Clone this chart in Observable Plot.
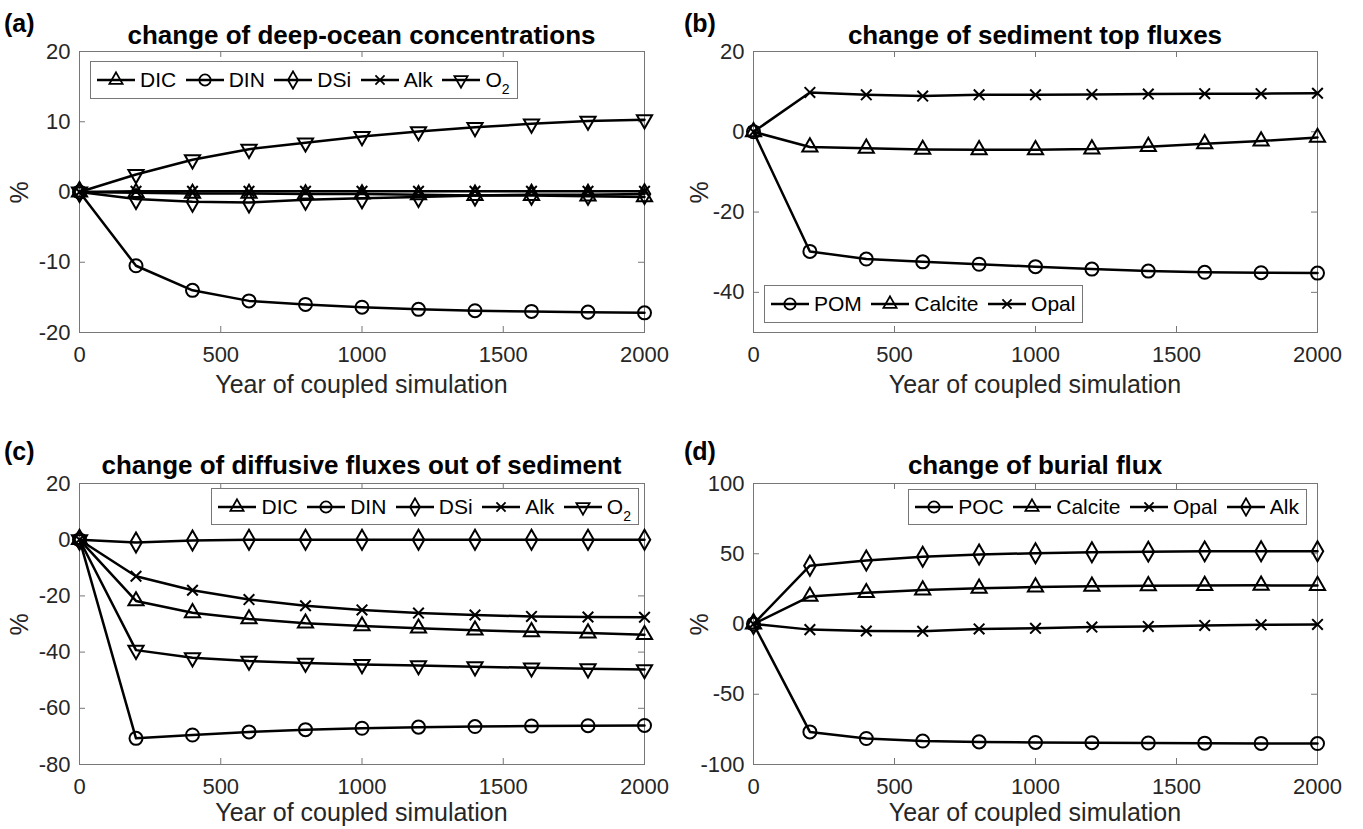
<!DOCTYPE html>
<html><head><meta charset="utf-8">
<script src="https://cdn.jsdelivr.net/npm/d3@7"></script>
<script src="https://cdn.jsdelivr.net/npm/@observablehq/plot@0.6"></script>
<style>
body{margin:0;background:#fff;font-family:"Liberation Sans",Arial,Helvetica,sans-serif;}
#fig{position:relative;width:1363px;height:829px;overflow:hidden;background:#fff}
.svgwrap{position:absolute}
.tag{position:absolute;font-weight:bold;font-size:25px;color:#000;line-height:1}
.title{position:absolute;font-weight:bold;font-size:26px;color:#000;text-align:center;line-height:1;white-space:nowrap}
.xlab{position:absolute;font-size:25px;color:#262626;text-align:center;line-height:1;white-space:nowrap}
.ylab{position:absolute;font-size:25px;color:#262626;line-height:1;transform:rotate(-90deg);transform-origin:center}
.legend{position:absolute;background:#fff;border:1px solid #777;display:flex;align-items:center;gap:8.5px;padding:0 7px 0 5px;box-sizing:border-box;font-size:21px;color:#000;white-space:nowrap}
.item{display:flex;align-items:center}
.item svg{display:block;margin-right:4px}
sub{font-size:14px;vertical-align:-7px;line-height:0}
</style></head>
<body><div id="fig"></div>
<script>
// ---------- data ----------
const years = [0, 200, 400, 600, 800, 1000, 1200, 1400, 1600, 1800, 2000];
const xTicks = [0, 500, 1000, 1500, 2000];

// (a) change of deep-ocean concentrations
const aDIC = [0, -0.1, -0.2, -0.2, -0.3, -0.3, -0.4, -0.5, -0.5, -0.6, -0.7];
const aDIN = [0, -10.5, -14.0, -15.5, -16.0, -16.4, -16.7, -16.9, -17.0, -17.1, -17.2];
const aDSi = [0, -1.0, -1.4, -1.5, -1.1, -0.9, -0.7, -0.5, -0.4, -0.4, -0.3];
const aAlk = [0, 0.1, 0.1, 0.1, 0.1, 0.1, 0.1, 0.1, 0.1, 0.1, 0.1];
const aO2  = [0, 2.5, 4.6, 6.1, 7.0, 7.9, 8.6, 9.2, 9.7, 10.1, 10.3];
const aYTicks = [-20, -10, 0, 10, 20];

// (b) change of sediment top fluxes
const bPOM     = [0, -29.8, -31.7, -32.4, -33.0, -33.6, -34.2, -34.7, -35.0, -35.1, -35.2];
const bCalcite = [0, -3.8, -4.1, -4.4, -4.5, -4.5, -4.3, -3.7, -3.0, -2.3, -1.4];
const bOpal    = [0, 9.8, 9.2, 8.9, 9.2, 9.2, 9.3, 9.4, 9.5, 9.5, 9.6];
const bYTicks = [-40, -20, 0, 20];

// (c) change of diffusive fluxes out of sediment
const cDIC = [0, -21.8, -26.0, -28.2, -29.7, -30.7, -31.5, -32.2, -32.8, -33.2, -33.8];
const cDIN = [0, -70.7, -69.5, -68.4, -67.6, -67.1, -66.7, -66.5, -66.3, -66.2, -66.1];
const cDSi = [0, -1.0, -0.3, 0, 0, 0, 0, 0, 0, 0, 0];
const cAlk = [0, -13.0, -18.0, -21.3, -23.5, -25.0, -26.1, -26.8, -27.3, -27.5, -27.6];
const cO2  = [0, -39.3, -42.0, -43.2, -43.9, -44.4, -44.8, -45.2, -45.6, -45.9, -46.2];
const cYTicks = [-80, -60, -40, -20, 0, 20];

// (d) change of burial flux
const dPOC     = [0, -76.8, -81.5, -83.3, -83.9, -84.3, -84.5, -84.7, -84.8, -85.0, -85.1];
const dCalcite = [0, 19.6, 22.3, 24.2, 25.4, 26.3, 26.8, 27.2, 27.4, 27.5, 27.4];
const dOpal    = [0, -4.0, -5.0, -5.2, -3.5, -3.1, -2.2, -1.7, -1.0, -0.6, -0.3];
const dAlk     = [0, 41.5, 45.2, 47.8, 49.4, 50.4, 51.0, 51.5, 51.7, 51.8, 51.8];
const dYTicks = [-100, -50, 0, 50, 100];

// ---------- symbols ----------
const sqrt3 = Math.sqrt(3);
const triangleDown = {draw(ctx, size){ const y = -Math.sqrt(size/(sqrt3*3)); ctx.moveTo(0,-y*2); ctx.lineTo(-sqrt3*y, y); ctx.lineTo(sqrt3*y, y); ctx.closePath(); }};
const SYM = {tri: d3.symbolTriangle, circ: d3.symbolCircle, diam: d3.symbolDiamond, x: d3.symbolTimes, tdown: triangleDown};
const SIZE = {tri: 100, circ: 133, diam: 115, x: 75, tdown: 100};

const fig = document.getElementById('fig');
const FONT = '"Liberation Sans",Arial,Helvetica,sans-serif';

function panel(p){
  const svgLeft = p.col === 0 ? 0 : 680, svgTop = p.top - 12;
  const W = 683, H = (p.bottom + 36) - svgTop;
  const plotW = p.right - p.left, plotH = p.bottom - p.top;
  const marks = [
    Plot.frame({stroke: '#777', strokeWidth: 1}),
    Plot.tickX(xTicks, {x: d => d, insetTop: plotH - 6, stroke: '#777'}),
    Plot.tickX(xTicks, {x: d => d, insetBottom: plotH - 6, stroke: '#777'}),
    Plot.tickY(p.yTicks, {y: d => d, insetRight: plotW - 6, stroke: '#777'}),
    Plot.tickY(p.yTicks, {y: d => d, insetLeft: plotW - 6, stroke: '#777'}),
    Plot.axisX(xTicks, {tickSize: 0, tickPadding: 14, fontSize: 22, fill: '#262626', label: null, tickFormat: d => String(d)}),
    Plot.axisY(p.yTicks, {tickSize: 0, tickPadding: 9, fontSize: 22, fill: '#262626', label: null, tickFormat: d => String(d)})
  ];
  for (const s of p.series) {
    marks.push(Plot.line(years, {x: d => d, y: (d, i) => s.v[i], stroke: '#000', strokeWidth: 2.5}));
  }
  for (const s of p.series) {
    marks.push(Plot.dot(years, {x: d => d, y: (d, i) => s.v[i], symbol: SYM[s.sym], r: Math.sqrt(SIZE[s.sym]/Math.PI), stroke: '#000', strokeWidth: 2, fill: 'none'}));
  }
  const chart = Plot.plot({
    width: W, height: H,
    marginLeft: p.left - svgLeft, marginRight: svgLeft + W - p.right,
    marginTop: p.top - svgTop, marginBottom: svgTop + H - p.bottom,
    x: {domain: [0, 2000]},
    y: {domain: p.yDomain},
    style: {fontFamily: FONT, fontSize: '22px', background: 'transparent', overflow: 'visible'},
    marks
  });
  const wrap = document.createElement('div');
  wrap.className = 'svgwrap';
  wrap.style.left = svgLeft + 'px'; wrap.style.top = svgTop + 'px';
  wrap.appendChild(chart);
  fig.appendChild(wrap);

  const tag = document.createElement('div'); tag.className = 'tag';
  tag.textContent = p.tag; tag.style.left = (svgLeft + 4) + 'px'; tag.style.top = p.tagTop + 'px';
  fig.appendChild(tag);

  const title = document.createElement('div'); title.className = 'title';
  title.textContent = p.title; title.style.left = p.left + 'px'; title.style.width = plotW + 'px';
  title.style.top = p.titleTop + 'px';
  fig.appendChild(title);

  const xl = document.createElement('div'); xl.className = 'xlab';
  xl.textContent = 'Year of coupled simulation'; xl.style.left = p.left + 'px'; xl.style.width = plotW + 'px';
  xl.style.top = p.xlabTop + 'px';
  fig.appendChild(xl);

  const yl = document.createElement('div'); yl.className = 'ylab';
  yl.textContent = '%'; yl.style.left = (svgLeft + 8) + 'px'; yl.style.top = ((p.top + p.bottom) / 2 - 12) + 'px';
  fig.appendChild(yl);

  const lg = document.createElement('div'); lg.className = 'legend';
  for (const k of ['left', 'right', 'top', 'height']) if (p.legend[k] != null) lg.style[k] = p.legend[k] + 'px';
  for (const s of p.series.slice().sort((a, b) => a.order - b.order)) {
    const it = document.createElement('div'); it.className = 'item';
    const svg = d3.create('svg').attr('width', 40).attr('height', 20);
    svg.append('line').attr('x1', 1).attr('x2', 39).attr('y1', 10).attr('y2', 10).attr('stroke', '#000').attr('stroke-width', 2.4);
    svg.append('path').attr('transform', 'translate(20,10)').attr('d', d3.symbol(SYM[s.sym], SIZE[s.sym] * 0.75)())
      .attr('fill', 'none').attr('stroke', '#000').attr('stroke-width', 1.8);
    it.appendChild(svg.node());
    const t = document.createElement('span'); t.innerHTML = s.label; it.appendChild(t);
    lg.appendChild(it);
  }
  fig.appendChild(lg);
}

const r1 = {top: 51, bottom: 332, titleTop: 22, tagTop: 11, xlabTop: 372};
const r2 = {top: 483, bottom: 764, titleTop: 452, tagTop: 439, xlabTop: 800};
const cA = {col: 0, left: 79, right: 644};
const cB = {col: 1, left: 753, right: 1317};

panel({...r1, ...cA, tag: '(a)', title: 'change of deep-ocean concentrations', yDomain: [-20, 20], yTicks: aYTicks,
  series: [
    {v: aDIC, sym: 'tri', label: 'DIC', order: 0},
    {v: aDIN, sym: 'circ', label: 'DIN', order: 1},
    {v: aDSi, sym: 'diam', label: 'DSi', order: 2},
    {v: aAlk, sym: 'x', label: 'Alk', order: 3},
    {v: aO2, sym: 'tdown', label: 'O<sub>2</sub>', order: 4}
  ],
  legend: {left: 90, top: 61, height: 38}});

panel({...r1, ...cB, tag: '(b)', title: 'change of sediment top fluxes', yDomain: [-50, 20], yTicks: bYTicks,
  series: [
    {v: bPOM, sym: 'circ', label: 'POM', order: 0},
    {v: bCalcite, sym: 'tri', label: 'Calcite', order: 1},
    {v: bOpal, sym: 'x', label: 'Opal', order: 2}
  ],
  legend: {left: 764, top: 285, height: 38}});

panel({...r2, ...cA, tag: '(c)', title: 'change of diffusive fluxes out of sediment', yDomain: [-80, 20], yTicks: cYTicks,
  series: [
    {v: cDIC, sym: 'tri', label: 'DIC', order: 0},
    {v: cDIN, sym: 'circ', label: 'DIN', order: 1},
    {v: cDSi, sym: 'diam', label: 'DSi', order: 2},
    {v: cAlk, sym: 'x', label: 'Alk', order: 3},
    {v: cO2, sym: 'tdown', label: 'O<sub>2</sub>', order: 4}
  ],
  legend: {right: 1363 - 639, top: 488, height: 37}});

panel({...r2, ...cB, tag: '(d)', title: 'change of burial flux', yDomain: [-100, 100], yTicks: dYTicks,
  series: [
    {v: dPOC, sym: 'circ', label: 'POC', order: 0},
    {v: dCalcite, sym: 'tri', label: 'Calcite', order: 1},
    {v: dOpal, sym: 'x', label: 'Opal', order: 2},
    {v: dAlk, sym: 'diam', label: 'Alk', order: 3}
  ],
  legend: {right: 1363 - 1307, top: 489, height: 36}});
</script>
</body></html>
